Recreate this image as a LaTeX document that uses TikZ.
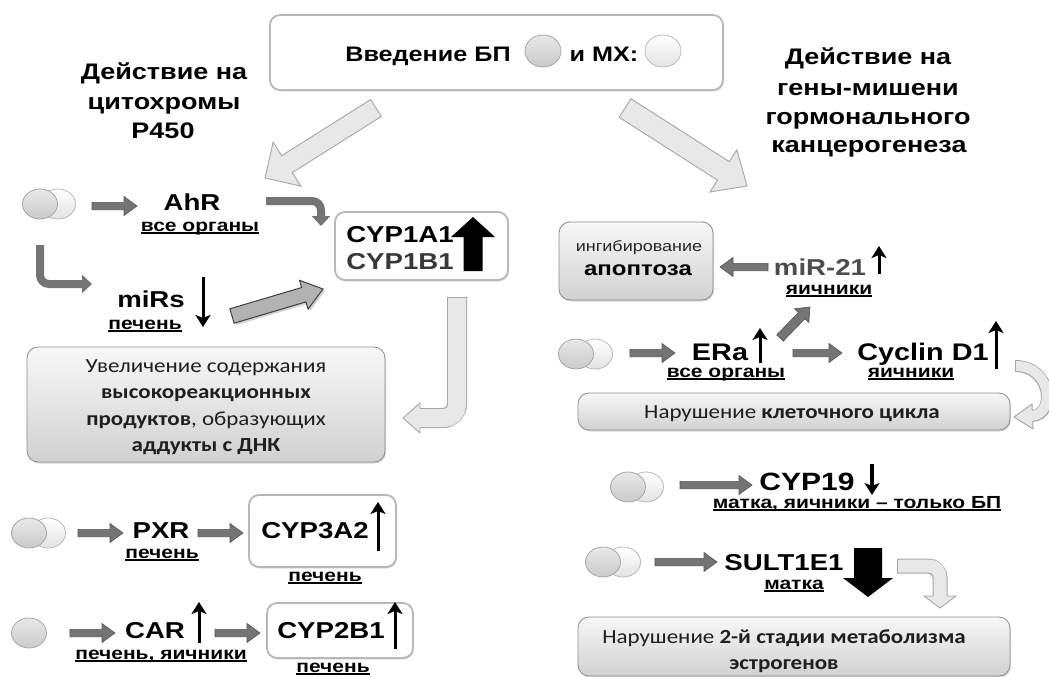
\documentclass[tikz,border=0pt]{standalone}
\usepackage{fontspec}
\setmainfont{Liberation Sans}[FakeStretch=1.2]
\newfontfamily\calf{Carlito}[FakeStretch=1.15]
\usetikzlibrary{arrows.meta,calc,shapes.geometric,shadows}
\definecolor{adark}{HTML}{747474}
\definecolor{adedge}{HTML}{555555}
\definecolor{lfill}{HTML}{E8E8E8}
\definecolor{ledge}{HTML}{A6A6A6}
\definecolor{bedge}{HTML}{8C8C8C}
\definecolor{boxw}{HTML}{B8B8B8}
\newcommand\fs[1]{\fontsize{#1}{#1}\selectfont}
\newcommand\ul[1]{\setbox0\hbox{#1}\rlap{\rule[-2.6pt]{\wd0}{1.4pt}}\box0}
% block arrow: style, from, to, half body, half head, head length
\newcommand\blk[6]{%
  \coordinate (bkH) at ($(#3)!#6!(#2)$);
  \path[#1] ($(#2)!#4!90:(#3)$) -- ($(bkH)!#4!90:(#3)$) -- ($(bkH)!#5!90:(#3)$) -- (#3)
    -- ($(bkH)!#5!-90:(#3)$) -- ($(bkH)!#4!-90:(#3)$) -- ($(#2)!#4!-90:(#3)$) -- cycle;}
\tikzset{
  lab/.style={inner sep=0pt, anchor=base, font=\bfseries\fs{23}},
  ttl/.style={inner sep=0pt, anchor=base, font=\bfseries\fs{22.5}},
  sub/.style={inner sep=0pt, anchor=base, font=\bfseries\fs{17.5}},
  boxtxt/.style={inner sep=0pt, text=black!88, font=\calf\fontsize{20}{26.5}\selectfont},
  sphA/.style={ellipse, inner sep=0pt, minimum width=35pt, minimum height=30pt, draw=gray!75, line width=0.7pt, top color=gray!18, bottom color=gray!42},
  sphB/.style={ellipse, inner sep=0pt, minimum width=35pt, minimum height=30pt, draw=gray!60, line width=0.7pt, top color=white, bottom color=gray!22},
  wbox/.style={draw=boxw, line width=1.8pt, fill=white, rounded corners=10pt, inner sep=0pt,
    drop shadow={shadow xshift=1pt, shadow yshift=-1.5pt, opacity=0.25}},
  gbox/.style={draw=bedge, line width=0.8pt, top color=gray!6, bottom color=gray!36, rounded corners=11pt, inner sep=0pt,
    drop shadow={shadow xshift=1pt, shadow yshift=-1.5pt, opacity=0.3}},
  darr/.style={fill=adark, draw=adedge, line width=0.6pt},
  darrbig/.style={fill=gray!60, draw=black!75, line width=1pt, drop shadow={opacity=0.35, shadow xshift=2pt, shadow yshift=-2pt}},
  larr/.style={fill=lfill, draw=ledge, line width=0.9pt},
  blackarr/.style={fill=black},
  tarr/.style={draw=black, line width=3pt, -{Stealth[length=12pt,width=15pt,inset=3pt]}},
  dbent/.style={draw=adark, line width=8pt, rounded corners=9pt, -{Triangle[length=10pt,width=18pt]}},
  lhead/.style={fill=lfill, draw=ledge, line width=0.9pt},
}
\begin{document}
\begin{tikzpicture}[x=1pt,y=-1pt]
\useasboundingbox (0,0) rectangle (1049,677);
\fill[white] (0,0) rectangle (1049,677);

% ---- top box
\node[wbox, minimum width=453pt, minimum height=75pt] (top) at (496.5,52.5) {};
\node[lab, font=\bfseries\fs{21}] (vv) at (428,62) {Введение БП};
\node[sphA, minimum width=36pt, minimum height=32pt] (sbp) at (543,51) {};
\node[lab, font=\bfseries\fs{21}] (mx) at (604,62) {и МХ:};
\node[sphB, minimum width=36pt, minimum height=32pt] (smx) at (663,51) {};

% ---- titles
\node[ttl] (tl1) at (164,80) {Действие на};
\node[ttl] (tl2) at (164,109) {цитохромы};
\node[ttl] (tl3) at (163,138) {P450};
\node[ttl] (tr1) at (868,65) {Действие на};
\node[ttl] (tr2) at (868,95) {гены-мишени};
\node[ttl] (tr3) at (868,124) {гормонального};
\node[ttl] (tr4) at (869,152) {канцерогенеза};

% ---- big light arrows from the top box
\coordinate (bl1) at (376,108); \coordinate (bl2) at (265,178);
\blk{larr}{bl1}{bl2}{10pt}{26pt}{26pt}
\coordinate (br1) at (625,108); \coordinate (br2) at (747,186);
\blk{larr}{br1}{br2}{11pt}{25pt}{28pt}

% ---- left cluster
\node[sphB] (l1b) at (58,204) {};
\node[sphA] (l1a) at (40,204) {};
\blk{darr}{92,206}{137,206}{3.7pt}{9.5pt}{13pt}
\node[lab] (ahr) at (192,210) {AhR};
\node[sub] (ahrs) at (200,231) {\ul{все органы}};
\draw[dbent] (266,201) -- (321,201) -- (321,226);

\node[wbox, minimum width=173pt, minimum height=68pt] (cyp1) at (421.5,246) {};
\node[lab] (c1a) at (400,242) {CYP1A1};
\node[lab, text=black!78] (c1b) at (400,269) {CYP1B1};
\blk{blackarr}{473,271}{473,217}{9.5pt}{22pt}{20pt}

\draw[dbent] (40,245) -- (40,284) -- (92,284);
\node[lab] (mirs) at (151,307) {miRs};
\draw[tarr] (203,277) -- (203,327);
\node[sub] (mirss) at (145,329) {\ul{печень}};
\blk{darrbig}{232,316}{323,289}{7.5pt}{15pt}{20pt}

% light bent arrow CYP box -> text box
\draw[line width=20pt, draw=ledge, rounded corners=14pt] (457,297) -- (457,418) -- (420,418);
\filldraw[lhead] (420,403) -- (403,418) -- (420,433) -- cycle;
\draw[line width=18pt, draw=lfill, rounded corners=13pt] (457,298) -- (457,418) -- (419,418);

\node[gbox, minimum width=358pt, minimum height=115pt] (tb1) at (206,404.5) {};
\node[boxtxt, align=center] (tb1t) at (206,407) {Увеличение содержания\\\textbf{высокореакционных}\\\textbf{продуктов}, образующих\\\textbf{аддукты с ДНК}};

% ---- bottom left
\node[sphB] (l2b) at (48,533) {};
\node[sphA] (l2a) at (29,533) {};
\blk{darr}{78,533}{123,533}{3.7pt}{9.5pt}{13pt}
\node[lab] (pxr) at (161,538) {PXR};
\node[sub] (pxrs) at (162,558) {\ul{печень}};
\blk{darr}{198,533}{243,533}{3.7pt}{9.5pt}{13pt}
\node[wbox, minimum width=147pt, minimum height=72pt] (cyp3) at (322.5,531) {};
\node[lab] (c3) at (315,538) {CYP3A2};
\draw[tarr] (378,551) -- (378,502);
\node[sub] (c3s) at (325,581) {\ul{печень}};

\node[sphA] (l3) at (29,633) {};
\blk{darr}{70,633}{115,633}{3.7pt}{9.5pt}{13pt}
\node[lab] (car) at (155,638) {CAR};
\draw[tarr] (199,643) -- (199,602);
\node[sub] (cars) at (161,659) {\ul{печень, яичники}};
\blk{darr}{215,633}{260,633}{3.7pt}{9.5pt}{13pt}
\node[wbox, minimum width=146pt, minimum height=55pt] (cyp2) at (340,630.5) {};
\node[lab] (c2) at (331,638) {CYP2B1};
\draw[tarr] (395,649) -- (395,602);
\node[sub] (c2s) at (333,672) {\ul{печень}};

% ---- right cluster
\node[gbox, minimum width=154pt, minimum height=78pt] (apb) at (636,261) {};
\node[inner sep=0pt, anchor=base, font=\fs{15}, text=black!85] (ing) at (639,251) {ингибирование};
\node[lab, font=\bfseries\fs{20}] (apo) at (638,275) {апоптоза};
\blk{darr}{768,267}{720,267}{3.7pt}{9.5pt}{13pt}
\node[lab, font=\bfseries\fs{23}, text=black!70] (mir21) at (820,275) {miR-21};
\draw[tarr] (879,274) -- (879,246);
\node[sub] (mir21s) at (829,294) {\ul{яичники}};

\node[sphB] (r1b) at (595,354) {};
\node[sphA] (r1a) at (576,354) {};
\blk{darr}{630,353}{675,353}{3.7pt}{9.5pt}{13pt}
\node[lab, font=\bfseries\fs{24}] (era) at (720,360) {ERa};
\draw[tarr] (760,363) -- (760,328);
\node[sub] (eras) at (726,377) {\ul{все органы}};
\blk{darr}{780,338}{810,307}{4.5pt}{10pt}{12pt}
\blk{darr}{793,353}{842,353}{3.7pt}{9.5pt}{13pt}
\node[lab, font=\bfseries\fs{24}] (cyc) at (923,360) {Cyclin D1};
\draw[tarr] (996,369) -- (996,321);
\node[sub] (cycs) at (911,377) {\ul{яичники}};

% loop arrow Cyclin -> cycle box
\draw[line width=12pt, draw=ledge] (1015,366) .. controls (1052,366) and (1056,415) .. (1032,416);
\filldraw[lhead] (1032,404) -- (1014,417) -- (1033,429) -- cycle;
\draw[line width=10pt, draw=lfill] (1016,366) .. controls (1052,366) and (1056,415) .. (1031,416);

\node[gbox, minimum width=432pt, minimum height=37pt] (ccb) at (794,411.5) {};
\node[boxtxt, anchor=base] (ccbt) at (792,418) {Нарушение \textbf{клеточного цикла}};

\node[sphB] (r2b) at (646,487) {};
\node[sphA] (r2a) at (628,487) {};
\blk{darr}{680,485}{752,485}{3.7pt}{9.5pt}{13pt}
\node[lab, font=\bfseries\fs{25}] (c19) at (807,490) {CYP19};
\draw[tarr, line width=3.4pt] (872,464) -- (872,495);
\node[sub] (c19s) at (857,508) {\ul{матка, яичники – только БП}};

\node[sphB] (r3b) at (623,562) {};
\node[sphA] (r3a) at (603,562) {};
\blk{darr}{655,562}{717,562}{3.7pt}{9.5pt}{13pt}
\node[lab] (sult) at (784,570) {SULT1E1};
\node[sub] (sults) at (794,589) {\ul{матка}};
\blk{blackarr}{868,548}{868,597}{14pt}{25pt}{19pt}

\draw[line width=15pt, draw=ledge, rounded corners=12pt] (897,566) -- (940,566) -- (940,596);
\filldraw[lhead] (924,596) -- (940,608) -- (956,596) -- cycle;
\draw[line width=13pt, draw=lfill, rounded corners=11pt] (898,566) -- (940,566) -- (940,597);

\node[gbox, minimum width=432pt, minimum height=59pt] (eb) at (794,646.5) {};
\node[boxtxt, align=center] (ebt) at (784,651) {Нарушение \textbf{2-й стадии метаболизма}\\\textbf{эстрогенов}};
\end{tikzpicture}
\end{document}
